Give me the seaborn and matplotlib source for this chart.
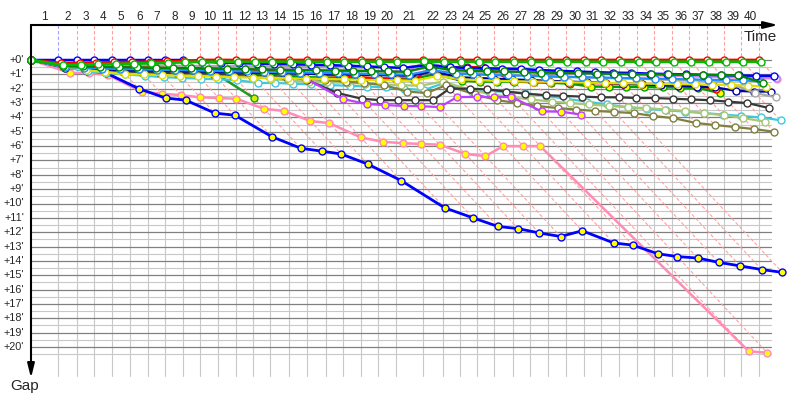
"""Race gap chart: every car's gap to the leader, placed on the leader's time axis.
   Each car's lap-k point sits on the lap-k diagonal (x = leader time + gap)."""
import matplotlib
matplotlib.use("Agg")
import matplotlib.pyplot as plt
import numpy as np
import pandas as pd
import seaborn as sns

sns.set_style("white")
plt.rcParams["font.family"] = ["Liberation Sans", "DejaVu Sans"]

LEADER_LAP_S = [121, 85, 76, 81, 81, 81, 76, 81, 76, 81,
                81, 76, 76, 81, 81, 85, 76, 81, 76, 81,
                121, 90, 76, 76, 76, 85, 76, 81, 81, 81,
                76, 81, 81, 76, 81, 76, 81, 76, 76, 81]

# gaps to the leader in minutes, lap 0 (start) onwards
RED_LEAD = [0, 0.22, 0.20, 0.18, 0.16, 0.14, 0.12, 0.10, 0.08, 0,
            0, 0, 0, 0, 0, 0, 0, 0, 0, 0,
            0, 0, 0, 0, 0, 0, 0, 0, 0, 0,
            0, 0, 0, 0, 0, 0, 0, 0, 0, 0, 0]
GREEN_2ND = [0, 0.35, 0.32, 0.30, 0.28, 0.25, 0.22, 0.20, 0.15, 0.12,
             0.12, 0.12, 0.13, 0.12, 0.12, 0.13, 0.12, 0.12, 0.13, 0.12,
             0.12, 0.10, 0.12, 0.12, 0.13, 0.12, 0.12, 0.13, 0.12, 0.12,
             0.12, 0.13, 0.12, 0.12, 0.13, 0.12, 0.12, 0.13, 0.12, 0.12, 0.12]
BLUE_W = [0, 0, 0, 0, 0, 0, 0, 0, 0, 0.12,
          0.18, 0.22, 0.25, 0.28, 0.30, 0.33, 0.36, 0.40, 0.45, 0.50,
          0.55, 0.35, 0.50, 0.55, 0.58, 0.60, 0.62, 0.70, 0.75, 0.80,
          0.85, 0.88, 0.90, 0.95, 0.98, 1.00, 1.03, 1.05, 1.08, 1.10, 1.10]
PINK_W = [0, 0.45, 0.50, 0.52, 0.55, 0.55, 0.58, 0.60, 0.60, 0.62,
          0.65, 0.66, 0.68, 0.70, 0.70, 0.72, 0.74, 0.75, 0.78, 0.80,
          0.82, 0.50, 0.70, 0.75, 0.78, 0.80, 0.84, 0.88, 0.92, 0.95,
          0.98, 1.00, 1.04, 1.08, 1.10, 1.14, 1.18, 1.20, 1.24, 1.28, 1.30]
VIOLET_W = [0, 0.35, 0.40, 0.45, 0.48, 0.50, 0.52, 0.55, 0.57, 0.58,
            0.60, 0.60, 0.62, 0.64, 0.66, 0.68, 0.70, 0.72, 0.75, 0.78,
            0.80, 0.15, 0.55, 0.65, 0.70, 0.72, 0.76, 0.80, 0.84, 0.88,
            0.92, 0.95, 0.98, 1.00, 1.04, 1.08, 1.10, 1.14, 1.16, 1.20, 1.22]
DKGREEN_W = [0, 0.40, 0.45, 0.48, 0.50, 0.52, 0.55, 0.56, 0.58, 0.60,
             0.62, 0.64, 0.66, 0.68, 0.70, 0.72, 0.74, 0.76, 0.78, 0.80,
             0.82, 0.45, 0.70, 0.75, 0.78, 0.80, 0.84, 0.88, 0.90, 0.92,
             0.95, 0.96, 0.98, 1.00, 1.00, 1.02, 1.04, 1.05, 1.06, 1.60]
SKY_W = [0, 0.50, 0.55, 0.60, 0.62, 0.65, 0.68, 0.70, 0.72, 0.75,
         0.78, 0.80, 0.82, 0.85, 0.88, 0.90, 0.92, 0.95, 0.98, 1.00,
         1.02, 0.70, 0.95, 1.00, 1.05, 1.08, 1.10, 1.15, 1.18, 1.20,
         1.22, 1.25, 1.28, 1.30, 1.32, 1.35, 1.38, 1.40, 1.42, 1.50]
YELLOW_W = [0, 0.50, 0.70, 0.85, 1.00, 1.00, 1.05, 1.10, 1.10, 1.15,
            1.20, 1.22, 1.25, 1.28, 1.30, 1.32, 1.35, 1.38, 1.40, 1.42,
            1.45, 1.10, 1.35, 1.40, 1.45, 1.48, 1.50, 1.52, 1.55, 1.58,
            1.60, 1.62, 1.64, 1.66, 1.68, 1.70, 1.72, 1.75, 1.78, 1.85]
GRAY_W = [0, 0.30, 0.32, 0.34, 0.35, 0.36, 0.38, 0.40, 0.40, 0.42,
          0.42, 0.44, 0.45, 0.46, 0.48, 0.50, 0.50, 0.52, 0.54, 0.55,
          0.56, 0.30, 0.80, 0.90, 0.95, 1.00, 1.05, 1.10, 1.15, 1.20,
          1.25, 1.28, 1.30, 1.35, 1.40, 1.45, 1.50, 1.55, 2.30, 2.60]
NAVY_W = [0, 0.55, 0.60, 0.65, 0.70, 0.72, 0.75, 0.78, 0.80, 0.82,
          0.85, 0.88, 0.90, 0.92, 0.95, 0.98, 1.00, 1.02, 1.05, 1.08,
          1.10, 0.80, 1.20, 1.25, 1.30, 1.35, 1.40, 1.45, 1.50, 1.55,
          1.60, 1.65, 1.70, 1.75, 1.80, 1.85, 1.90, 2.15, 2.20, 2.20]
RED_Y = [0, 0.30, 0.35, 0.40, 0.45, 0.50, 0.52, 0.55, 0.58, 0.60,
         0.62, 0.65, 0.70, 0.80, 0.90, 1.00, 1.10, 1.20, 1.28, 1.35,
         1.40, 0.55, 0.50, 0.50, 0.50, 1.45, 1.50, 1.55, 1.58, 1.60,
         1.62, 1.65, 1.68, 1.70, 1.75, 1.80, 2.00]
GREEN_Y2 = [0, 0.40, 0.45, 0.50, 0.55, 0.60, 0.65, 0.70, 0.75, 0.80,
            0.85, 0.90, 0.95, 1.05, 1.20, 1.22, 1.25, 1.25, 1.28, 1.28,
            1.30, 1.00, 1.45, 1.50, 1.50, 1.50, 1.55, 1.58, 1.65, 1.85,
            1.86, 1.87, 1.88, 1.90, 1.92, 1.95, 2.30]
PURPLE_Y = [0, 0.40, 0.45, 0.50, 0.55, 0.58, 0.62, 0.66, 0.70, 0.75,
            0.80, 0.85, 0.90, 1.05, 1.30, 2.72, 3.07, 3.14, 3.20, 3.22,
            3.28, 2.58, 2.58, 2.58, 2.58, 3.58, 3.60, 3.80]
BLACK_W = [0, 0.45, 0.55, 0.65, 0.75, 0.85, 0.88, 0.90, 0.92, 0.95,
           0.98, 1.00, 1.05, 1.10, 1.40, 2.30, 2.70, 2.80, 2.80, 2.80,
           2.80, 2.00, 2.00, 2.05, 2.20, 2.35, 2.45, 2.50, 2.55, 2.60,
           2.60, 2.65, 2.65, 2.70, 2.75, 2.80, 2.90, 3.00, 3.35]
OLIVE_W = [0, 0.50, 0.60, 0.70, 0.80, 0.85, 0.90, 0.95, 1.00, 1.05,
           1.10, 1.15, 1.20, 1.25, 1.30, 1.40, 1.50, 1.60, 1.75, 2.20,
           2.30, 1.75, 2.40, 2.80, 3.00, 3.20, 3.35, 3.45, 3.55, 3.62,
           3.70, 3.90, 4.05, 4.39, 4.53, 4.67, 4.81, 5.00]
LGREEN_W = [0, 0.55, 0.65, 0.75, 0.85, 0.90, 0.95, 1.00, 1.05, 1.10,
            1.15, 1.20, 1.30, 1.45, 1.50, 1.55, 1.60, 1.65, 1.70, 1.75,
            1.80, 1.50, 2.10, 2.40, 2.60, 2.75, 2.90, 3.00, 3.10, 3.20,
            3.30, 3.35, 3.45, 3.55, 3.70, 3.85, 4.05, 4.30]
CYAN_W = [0, 0.50, 0.80, 0.90, 1.00, 1.10, 1.20, 1.25, 1.30, 1.35,
          1.40, 1.60, 1.60, 1.65, 1.70, 1.75, 1.80, 1.85, 1.90, 2.00,
          2.10, 1.60, 2.20, 2.20, 2.20, 2.30, 2.50, 2.70, 2.90, 3.10,
          3.30, 3.40, 3.50, 3.60, 3.70, 3.80, 3.90, 4.00, 4.20]
GREEN_Y = [0, 0.30, 0.35, 0.40, 0.45, 0.48, 0.50, 0.55, 0.55, 0.65, 2.65]
BLUE_Y = [0, 0.45, 0.75, 0.90, 2.00, 2.65, 2.80, 3.70, 3.85, 5.35,
          6.15, 6.35, 6.55, 7.25, 8.40, 10.30, 11.00, 11.60, 11.75, 12.05,
          12.30, 11.90, 12.75, 12.90, 13.50, 13.70, 13.80, 14.10, 14.35, 14.60,
          14.80]
PINK_Y = [0, 0.90, 0.90, 1.05, 2.20, 2.35, 2.45, 2.60, 2.65, 2.70,
          3.40, 3.55, 4.25, 4.40, 5.40, 5.70, 5.80, 5.85, 5.90, 6.55,
          6.70, 6.00, 6.00, 6.00, 20.30, 20.40]

GAP_TICKS = list(range(0, 21))

# drawing order (back to front): name, gaps, line colour, marker face, line width
STYLE = [
    ("pink_y", PINK_Y, "#ff8cb4", "#ffff00", 1.8),
    ("blue_y", BLUE_Y, "#0000ff", "#ffff00", 2.0),
    ("green_y", GREEN_Y, "#229922", "#d8f000", 1.8),
    ("cyan_w", CYAN_W, "#40c8e0", "white", 1.6),
    ("lgreen_w", LGREEN_W, "#a8c878", "white", 1.6),
    ("olive_w", OLIVE_W, "#808040", "white", 1.6),
    ("black_w", BLACK_W, "#383838", "white", 1.6),
    ("purple_y", PURPLE_Y, "#c040ff", "#ffff00", 1.6),
    ("pink_w", PINK_W, "#ff88cc", "white", 1.6),
    ("violet_w", VIOLET_W, "#c080ff", "white", 1.6),
    ("green_y2", GREEN_Y2, "#00a000", "#ffff00", 1.8),
    ("red_y", RED_Y, "#ff0000", "#ffff00", 1.8),
    ("navy_w", NAVY_W, "#0000a0", "white", 1.6),
    ("gray_w", GRAY_W, "#a8a8a8", "white", 1.6),
    ("yellow_w", YELLOW_W, "#e0e000", "white", 1.6),
    ("sky_w", SKY_W, "#1e90ff", "white", 1.6),
    ("blue_w", BLUE_W, "#0000ff", "white", 1.8),
    ("dkgreen_w", DKGREEN_W, "#008800", "white", 1.6),
    ("red_lead", RED_LEAD, "#ff0000", "white", 2.0),
    ("green_2nd", GREEN_2ND, "#00bb00", "white", 2.0),
]

# pixel geometry of the reference (800x400)
W_PX, H_PX = 800, 400
X0_PX, Y0_PX = 31, 60          # time 0 / gap 0
PX_PER_MIN_X, PX_PER_MIN_Y = 13.4, 14.35
TOP_PX, AXIS_END_X_PX, AXIS_END_Y_PX = 25, 778, 378
GRID_RIGHT_PX, VGRID_BOTTOM_GAP, HGRID_LAST = 771, 22.0, 20.5
DASH = (0, (3, 2))
PINK_DASH = "#ffa0a0"


def px_x(px):
    return (px - X0_PX) / PX_PER_MIN_X


def px_y(py):
    return (py - Y0_PX) / PX_PER_MIN_Y


def main():
    lap_t = np.concatenate([[0.0], np.cumsum(LEADER_LAP_S) / 60.0])
    n_laps = len(LEADER_LAP_S)

    rows = []
    for name, gaps, *_ in STYLE:
        for lap, g in enumerate(gaps):
            rows.append({"driver": name, "lap": lap, "gap": g,
                         "time": lap_t[lap] + g})
    df = pd.DataFrame(rows)
    max_gap = df.groupby("lap")["gap"].max()

    fig = plt.figure(figsize=(W_PX / 100, H_PX / 100), dpi=100)
    ax = fig.add_axes([0, 0, 1, 1])

    top_gap = px_y(TOP_PX)
    grid_right = px_x(GRID_RIGHT_PX)

    # horizontal grid: dark on whole minutes, light on half minutes
    for g in np.arange(0.5, HGRID_LAST + 0.01, 1.0):
        ax.plot([0, grid_right], [g, g], color="#c8c8c8", lw=0.8, zorder=1)
    for g in GAP_TICKS:
        ax.plot([0, grid_right], [g, g], color="#808080", lw=0.9, zorder=1.1)

    for k in range(1, n_laps + 1):
        t = lap_t[k]
        ax.plot([t, t], [0, VGRID_BOTTOM_GAP], color="#c8c8c8", lw=0.8,
                zorder=1)
        ax.plot([t, t], [top_gap, 0], color="#a0a0ff" if k == 1 else PINK_DASH,
                lw=0.8, ls=DASH, zorder=1.5)
        m = max_gap[k]
        ax.plot([t, t + m], [0, m], color=PINK_DASH, lw=0.8, ls=DASH,
                zorder=1.5)

    for z, (name, gaps, color, face, lw) in enumerate(STYLE):
        sub = df[df["driver"] == name]
        sns.lineplot(data=sub, x="time", y="gap", sort=False, estimator=None,
                     color=color, lw=lw, marker="o", markersize=5,
                     markerfacecolor=face, markeredgecolor=color,
                     markeredgewidth=1.0, ax=ax, zorder=3 + z * 0.1)

    # axes with arrows
    arrow = dict(arrowstyle="-|>,head_length=0.6,head_width=0.15",
                 color="black", lw=1.5, mutation_scale=14,
                 shrinkA=0, shrinkB=0)
    ax.annotate("", xy=(0, px_y(AXIS_END_Y_PX)), xytext=(0, top_gap),
                arrowprops=arrow, zorder=6)
    ax.annotate("", xy=(px_x(AXIS_END_X_PX), top_gap), xytext=(0, top_gap),
                arrowprops=arrow, zorder=6)

    for k in range(1, n_laps + 1):
        ax.text((lap_t[k - 1] + lap_t[k]) / 2, px_y(17), str(k),
                ha="center", va="center", fontsize=8.5)
    for g in GAP_TICKS:
        ax.text(px_x(24), g, f"+{g}'", ha="right", va="center",
                fontsize=7.8)

    ax.text(px_x(777), px_y(41), "Time", ha="right", va="baseline",
            fontsize=11)
    ax.text(px_x(10), px_y(390), "Gap", ha="left", va="baseline",
            fontsize=11)

    ax.set_xlim(px_x(0), px_x(W_PX))
    ax.set_ylim(px_y(H_PX), px_y(0))
    ax.set_axis_off()

    fig.savefig("out.png", dpi=100)
    plt.close(fig)


if __name__ == "__main__":
    main()
